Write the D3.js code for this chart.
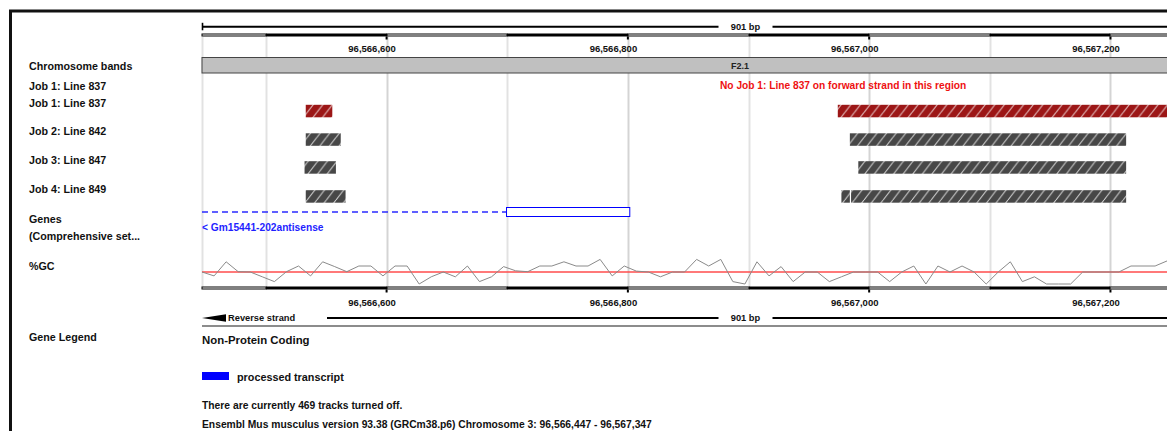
<!DOCTYPE html>
<html>
<head>
<meta charset="utf-8">
<script src="https://cdn.jsdelivr.net/npm/d3@7"></script>
<style>
  html, body { margin: 0; padding: 0; background: #fff; overflow: hidden; }
  svg { display: block; font-family: "Liberation Sans", Arial, Helvetica, sans-serif; }
</style>
</head>
<body>
<script>
// Region shown (chromosome 3, GRCm38)
const regionStart = 96566447;
const regionEnd = 96567347;
const regionLabel = "901 bp";

// Ruler ticks (labelled every 200 bp) and grid every 100 bp
const tickPositions = [96566600, 96566800, 96567000, 96567200];
const gridPositions = [96566447, 96566500, 96566600, 96566700, 96566800, 96566900, 96567000, 96567100, 96567200, 96567300];

// Track labels in the left column
const trackLabels = ["Chromosome bands", "Job 1: Line 837", "Job 1: Line 837", "Job 2: Line 842",
  "Job 3: Line 847", "Job 4: Line 849", "Genes", "(Comprehensive set...", "%GC"];

// Chromosome band
const bandName = "F2.1";

// Uploaded feature tracks: [start, end]
const job1Features = [[96566533, 96566555], [96566974, 96567347]];
const job2Features = [[96566533, 96566562], [96566984, 96567213]];
const job3Features = [[96566532, 96566558], [96566991, 96567213]];
const job4Features = [[96566533, 96566566], [96566977, 96566984], [96566985, 96567213]];
const emptyMessage = "No Job 1: Line 837 on forward strand in this region";

// Gene transcript (reverse strand): exon inside the region, intron running off the left edge
const geneName = "< Gm15441-202antisense";
const geneExons = [[96566699, 96566802]];
const geneIntron = [96566447, 96566699];

// %GC in 10 bp windows from the region start
const gcWindow = 10;
const gcValues = [50, 37, 84, 51, 50, 34, 18, 51, 70, 37,
  84, 68, 51, 70, 70, 37, 70, 70, 10, 34,
  50, 34, 70, 18, 34, 68, 54, 51, 70, 70,
  84, 70, 70, 92, 37, 70, 53, 50, 34, 50,
  50, 92, 70, 92, 18, 10, 84, 37, 68, 18,
  50, 50, 18, 34, 50, 50, 50, 18, 50, 70,
  10, 70, 50, 70, 50, 10, 50, 84, 18, 34,
  10, 10, 10, 50, 50, 50, 50, 70, 70, 70, 87];

// Legend and footer text
const legendTitle = "Non-Protein Coding";
const legendItems = ["processed transcript"];
const footerLines = ["There are currently 469 tracks turned off.",
  "Ensembl Mus musculus version 93.38 (GRCm38.p6) Chromosome 3: 96,566,447 - 96,567,347"];

const W = 1300, H = 431;
const svg = d3.select("body").append("svg").attr("width", W).attr("height", H);

const x = d3.scaleLinear().domain([regionStart, regionEnd + 1]).range([202, 1289]);
const fmt = d3.format(",");

// hatch patterns for the feature bars
const defs = svg.append("defs");
function hatch(id, fill) {
  const p = defs.append("pattern").attr("id", id).attr("patternUnits", "userSpaceOnUse")
    .attr("width", 9.6).attr("height", 12.5);
  p.append("rect").attr("width", 9.6).attr("height", 12.5).attr("fill", fill);
  p.append("path").attr("d", "M0,12.5L9.6,0M-9.6,12.5L0,0M9.6,12.5L19.2,0")
    .attr("stroke", "#fff").attr("stroke-opacity", 0.8).attr("stroke-width", 1);
}
hatch("hatchRed", "#9c1616");
hatch("hatchGrey", "#474747");

// outer frame
svg.append("path").attr("d", `M10.5,${H + 5}V11H${W}`).attr("fill", "none")
  .attr("stroke", "#111").attr("stroke-width", 3);

// grid lines
svg.append("g").selectAll("line").data(gridPositions).join("line")
  .attr("x1", d => Math.round(x(d)) + 0.5).attr("x2", d => Math.round(x(d)) + 0.5)
  .attr("y1", 37).attr("y2", 287)
  .attr("stroke", d => tickPositions.includes(d) ? "#d4d4d4" : "#e2e2e2").attr("stroke-width", 2);

// scale bar with bp length
function scaleBar(y, withArrow) {
  const g = svg.append("g");
  const cx = (x.range()[0] + x.range()[1]) / 2;
  const startX = withArrow ? 327 : x.range()[0];
  if (withArrow) {
    g.append("path").attr("d", `M202,${y}L226,${y - 3.8}L226,${y + 3.8}Z`).attr("fill", "#000");
    g.append("text").attr("x", 228).attr("y", y + 3.3).attr("font-size", 9.3).attr("font-weight", "bold")
      .attr("fill", "#111").text("Reverse strand");
  } else {
    g.append("line").attr("x1", 202.5).attr("x2", 202.5).attr("y1", y - 4).attr("y2", y + 3.5)
      .attr("stroke", "#000").attr("stroke-width", 1.6);
  }
  g.append("line").attr("x1", startX).attr("x2", cx - 27).attr("y1", y).attr("y2", y)
    .attr("stroke", "#000").attr("stroke-width", 2);
  g.append("line").attr("x1", cx + 27).attr("x2", x.range()[1]).attr("y1", y).attr("y2", y)
    .attr("stroke", "#000").attr("stroke-width", 2);
  g.append("text").attr("x", cx).attr("y", y + 3.3).attr("text-anchor", "middle")
    .attr("font-size", 9.3).attr("font-weight", "bold").attr("fill", "#111").text(regionLabel);
}
scaleBar(26.8, false);
scaleBar(318, true);

// alternating ruler with labelled ticks
function ruler(y, labelY) {
  const g = svg.append("g");
  const bounds = [regionStart, ...d3.range(96566500, regionEnd + 1, 100), regionEnd + 1];
  const segs = d3.pairs(bounds);
  const dark = d => Math.floor(d[0] / 100) % 2 === 1;
  g.selectAll("rect").data(segs).join("rect")
    .attr("x", d => Math.round(x(d[0]))).attr("width", d => Math.round(x(d[1])) - Math.round(x(d[0])))
    .attr("y", d => dark(d) ? y : y + 0.5)
    .attr("height", d => dark(d) ? 3 : 2)
    .attr("fill", d => dark(d) ? "#000" : "#fff")
    .attr("stroke", d => dark(d) ? "none" : "#000")
    .attr("stroke-width", 1);
  g.selectAll("line").data(tickPositions).join("line")
    .attr("x1", d => x(d)).attr("x2", d => x(d)).attr("y1", y + 3).attr("y2", y + 6)
    .attr("stroke", "#000").attr("stroke-width", 2);
  g.selectAll("text").data(tickPositions).join("text")
    .attr("x", d => x(d) + 9.3).attr("y", labelY).attr("text-anchor", "end")
    .attr("font-size", 9.5).attr("font-weight", "bold").attr("fill", "#111").text(d => fmt(d));
}
ruler(33.5, 52);
ruler(286.5, 305.5);

// chromosome band
svg.append("rect").attr("x", x(regionStart)).attr("y", 57.5)
  .attr("width", x(regionEnd + 1) - x(regionStart)).attr("height", 15.5)
  .attr("fill", "#c0c0c0").attr("stroke", "#444").attr("stroke-width", 1);
svg.append("text").attr("x", 740).attr("y", 68.5).attr("text-anchor", "middle")
  .attr("font-size", 9).attr("font-weight", "bold").attr("fill", "#222").text(bandName);

// left labels
const labelY = [69.8, 89.5, 107.1, 135.2, 164.2, 192.6, 222.8, 240.3, 270.4];
svg.append("g").selectAll("text").data(trackLabels).join("text")
  .attr("x", 29).attr("y", (d, i) => labelY[i])
  .attr("font-size", 10.7).attr("font-weight", "bold").attr("fill", "#111").text(d => d);

// empty-track message
svg.append("text").attr("x", 720).attr("y", 89.3).attr("font-size", 10.2).attr("font-weight", "bold")
  .attr("fill", "#ee1111").text(emptyMessage);

// feature bars
function features(data, top, pattern) {
  svg.append("g").selectAll("rect").data(data).join("rect")
    .attr("x", d => x(d[0])).attr("width", d => x(d[1]) - x(d[0]))
    .attr("y", top).attr("height", 12.5).attr("fill", `url(#${pattern})`);
}
features(job1Features, 104.8, "hatchRed");
features(job2Features, 133.3, "hatchGrey");
features(job3Features, 161.2, "hatchGrey");
features(job4Features, 190.2, "hatchGrey");

// gene transcript
const geneBlue = "#0000ff";
svg.append("line").attr("x1", x(geneIntron[0])).attr("x2", x(geneIntron[1]))
  .attr("y1", 212).attr("y2", 212).attr("stroke", "#2b2bff").attr("stroke-width", 1.3)
  .attr("stroke-dasharray", "6,4");
svg.append("g").selectAll("rect").data(geneExons).join("rect")
  .attr("x", d => x(d[0]) + 0.5).attr("width", d => x(d[1]) - x(d[0]) - 1)
  .attr("y", 207.5).attr("height", 9).attr("fill", "#fff").attr("stroke", geneBlue).attr("stroke-width", 1);
svg.append("text").attr("x", 202).attr("y", 231).attr("font-size", 10.2).attr("font-weight", "bold")
  .attr("fill", "#1f1fff").text(geneName);

// %GC track
const gcY = d3.scaleLinear().domain([0, 100]).range([287, 257]);
svg.append("line").attr("x1", x(regionStart)).attr("x2", x(regionEnd + 1))
  .attr("y1", gcY(50)).attr("y2", gcY(50)).attr("stroke", "#ff4d4d").attr("stroke-width", 1.4);
svg.append("path").datum(gcValues)
  .attr("d", d3.line().x((d, i) => x(regionStart + i * gcWindow)).y(d => gcY(d)))
  .attr("fill", "none").attr("stroke", "#8a8a8a").attr("stroke-width", 1);

// separator under the lower scale bar
svg.append("line").attr("x1", 202).attr("x2", W).attr("y1", 326).attr("y2", 326)
  .attr("stroke", "#8c8c8c").attr("stroke-width", 2);

// gene legend
svg.append("text").attr("x", 29).attr("y", 341).attr("font-size", 10.7).attr("font-weight", "bold")
  .attr("fill", "#111").text("Gene Legend");
svg.append("text").attr("x", 202).attr("y", 344).attr("font-size", 11.4).attr("font-weight", "bold")
  .attr("fill", "#111").text(legendTitle);
const leg = svg.append("g").selectAll("g").data(legendItems).join("g");
leg.append("rect").attr("x", 202).attr("y", 372).attr("width", 27).attr("height", 8).attr("fill", geneBlue);
leg.append("text").attr("x", 237).attr("y", 380.5).attr("font-size", 10.8).attr("font-weight", "bold")
  .attr("fill", "#111").text(d => d);

// footer
svg.append("g").selectAll("text").data(footerLines).join("text")
  .attr("x", 202).attr("y", (d, i) => 408.8 + i * 19).attr("font-size", 10.3).attr("font-weight", "bold")
  .attr("fill", "#111").text(d => d);
</script>
</body>
</html>
